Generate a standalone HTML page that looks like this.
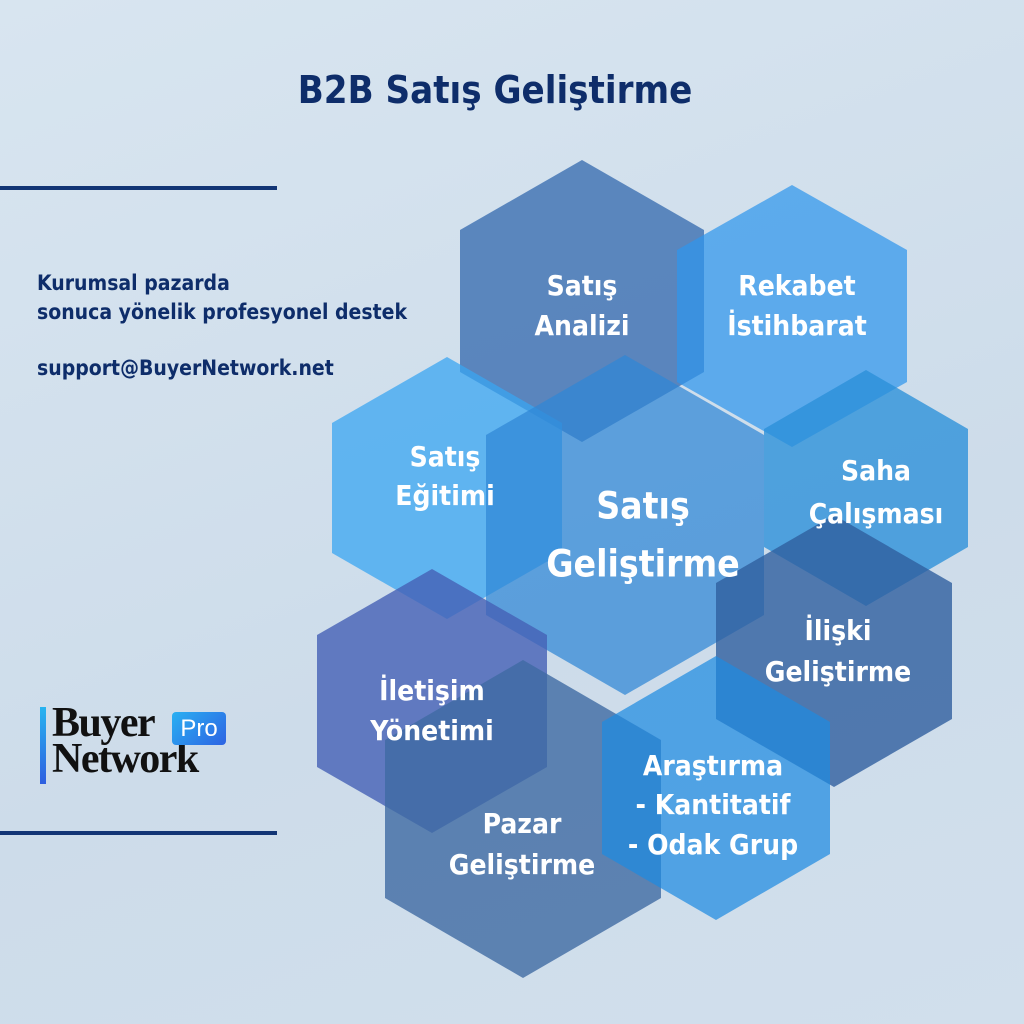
<!DOCTYPE html>
<html><head><meta charset="utf-8"><style>
html,body{margin:0;padding:0}
body{width:1024px;height:1024px;overflow:hidden;background:linear-gradient(160deg,#d8e5f0 0%,#cddcea 60%,#d1dfec 100%);font-family:"Liberation Sans","DejaVu Sans",sans-serif;position:relative}
.t{position:absolute;color:#0e2d6a;font-weight:bold}
</style></head><body>
<div class="t" style="left:0;width:990px;top:68px;text-align:center;font-size:38px;font-family:'DejaVu Sans','Liberation Sans',sans-serif;font-stretch:condensed">B2B Satış Geliştirme</div>
<div style="position:absolute;left:0;top:186px;width:277px;height:4px;background:#123575"></div>
<div style="position:absolute;left:0;top:831px;width:277px;height:4px;background:#123575"></div>
<div class="t" style="left:37px;top:269px;font-size:21px;line-height:29px;font-family:'DejaVu Sans',sans-serif;font-stretch:condensed">Kurumsal pazarda<br>sonuca yönelik profesyonel destek</div>
<div class="t" style="left:37px;top:356px;font-size:21px;font-family:'DejaVu Sans',sans-serif;font-stretch:condensed">support@BuyerNetwork.net</div>
<div style="position:absolute;left:40px;top:707px;width:6px;height:77px;background:linear-gradient(#27b4f0,#2f5fe0)"></div>
<div style="position:absolute;left:52px;top:705px;font-family:'Liberation Serif',serif;font-weight:bold;font-size:42px;line-height:36px;color:#111;letter-spacing:-1.5px">Buyer<br>Network</div>
<div style="position:absolute;left:172px;top:712px;width:54px;height:33px;border-radius:4px;background:linear-gradient(135deg,#2ab0f2,#2d63e3);color:#fff;font-size:24px;line-height:33px;text-align:center">Pro</div>
<svg width="1024" height="1024" style="position:absolute;left:0;top:0">
<g>
<polygon fill="#3f72b2" fill-opacity="0.82" points="582,160 704,230 704,372 582,442 460,372 460,230"/>
<polygon fill="#2f95ec" fill-opacity="0.72" points="792,185 907,250 907,382 792,447 677,382 677,250"/>
<polygon fill="#3aa5f2" fill-opacity="0.75" points="447,357 562,423 562,553 447,619 332,553 332,423"/>
<polygon fill="#2f86d6" fill-opacity="0.72" points="625,355 764,435 764,615 625,695 486,615 486,435"/>
<polygon fill="#2a8fd8" fill-opacity="0.78" points="866,370 968,429 968,547 866,606 764,547 764,429"/>
<polygon fill="#2f5f9f" fill-opacity="0.8" points="834,515 952,583 952,719 834,787 716,719 716,583"/>
<polygon fill="#4560b5" fill-opacity="0.8" points="432,569 547,635 547,767 432,833 317,767 317,635"/>
<polygon fill="#3e6aa2" fill-opacity="0.8" points="523,660 661,740 661,898 523,978 385,898 385,740"/>
<polygon fill="#1e8ae0" fill-opacity="0.72" points="716,656 830,722 830,854 716,920 602,854 602,722"/>
</g>
<g fill="#fff" font-family="DejaVu Sans,Liberation Sans,sans-serif" font-weight="bold" font-size="28" text-anchor="middle" dominant-baseline="middle" style="font-stretch:condensed">
<text x="582" y="287">Satış</text><text x="582" y="327">Analizi</text>
<text x="797" y="287">Rekabet</text><text x="797" y="327">İstihbarat</text>
<text x="445" y="458">Satış</text><text x="445" y="497">Eğitimi</text>
<text x="643" y="508" font-size="37">Satış</text><text x="643" y="566" font-size="37">Geliştirme</text>
<text x="876" y="472">Saha</text><text x="876" y="515">Çalışması</text>
<text x="838" y="632">İlişki</text><text x="838" y="673">Geliştirme</text>
<text x="432" y="692">İletişim</text><text x="432" y="732">Yönetimi</text>
<text x="522" y="825">Pazar</text><text x="522" y="866">Geliştirme</text>
<text x="713" y="767">Araştırma</text><text x="713" y="806">- Kantitatif</text><text x="713" y="846">- Odak Grup</text>
</g>
</svg>
</body></html>
